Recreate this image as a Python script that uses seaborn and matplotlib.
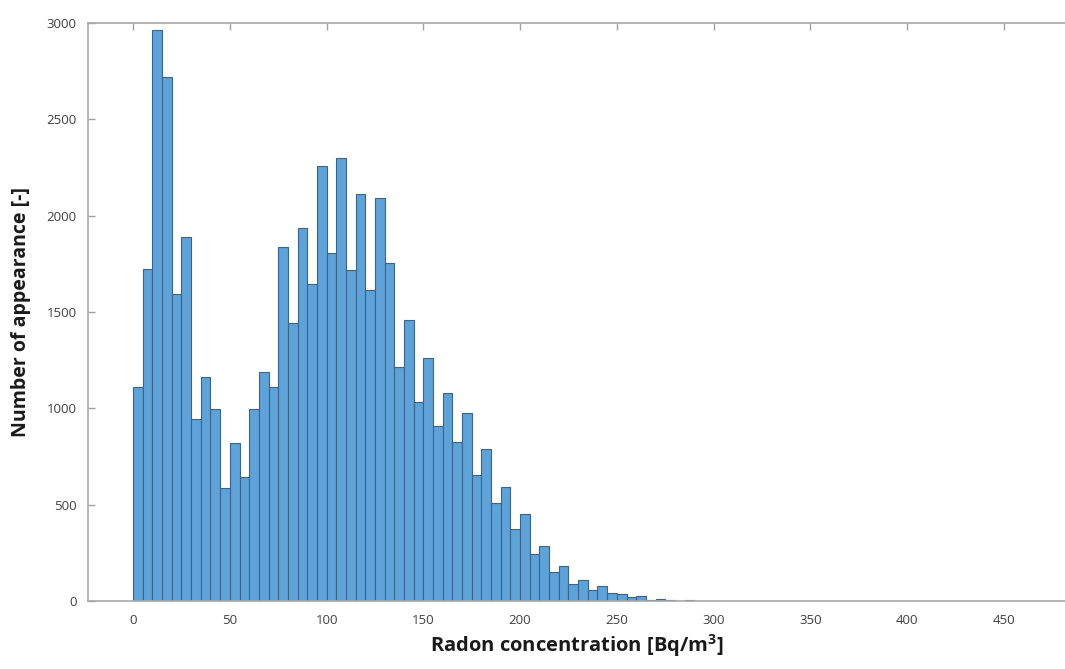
import numpy as np
import pandas as pd
import matplotlib
matplotlib.use('Agg')
import matplotlib.pyplot as plt
import seaborn as sns

# histogram of radon concentration, 5 Bq/m3 bins
bin_width = 5
bin_start = list(range(0, 470, bin_width))
counts = [1110, 1725, 2965, 2720, 1592, 1891, 943, 1164, 995, 585,
          821, 645, 995, 1187, 1112, 1839, 1441, 1934, 1645, 2258,
          1808, 2297, 1718, 2110, 1614, 2090, 1752, 1212, 1460, 1034,
          1259, 908, 1081, 823, 974, 654, 789, 510, 593, 372,
          450, 244, 285, 149, 182, 88, 109, 57, 80, 43,
          35, 22, 26, 5, 10, 3, 2, 4, 2, 1,
          1, 1, 0, 1, 0, 0, 1, 0, 0, 0,
          0, 0, 0, 0, 0, 0, 0, 0, 0, 0,
          0, 0, 0, 0, 0, 0, 0, 0, 0, 0,
          0, 0, 1, 0]
x_ticks = list(range(0, 451, 50))
y_ticks = list(range(0, 3001, 500))

df = pd.DataFrame({'center': np.array(bin_start) + bin_width / 2,
                   'count': counts})

sns.set_style('white')
plt.rcParams['font.family'] = ['Open Sans', 'DejaVu Sans']
plt.rcParams['mathtext.fontset'] = 'custom'
plt.rcParams['mathtext.bf'] = 'Open Sans:bold'
plt.rcParams['mathtext.rm'] = 'Open Sans'

fig = plt.figure(figsize=(10.65, 6.69), dpi=100)
ax = fig.add_axes([88 / 1065, 68 / 669, 977 / 1065, 578 / 669])

sns.histplot(data=df, x='center', weights='count',
             binwidth=bin_width, binrange=(0, bin_start[-1] + bin_width),
             color='#5fa2d8', edgecolor='#36668f', linewidth=0.8,
             alpha=1, ax=ax)

ax.set_xlim(-23.3, 481.6)
ax.set_ylim(0, 3000)
ax.set_xticks(x_ticks)
ax.set_yticks(y_ticks)

for side in ['top', 'left', 'bottom']:
    ax.spines[side].set_color('#a8a8a8')
    ax.spines[side].set_linewidth(1.2)
ax.spines['right'].set_visible(False)

ax.tick_params(axis='both', direction='in', length=5, width=1,
               color='#a0a0a0', labelcolor='#404040', labelsize=9.5)
ax.tick_params(axis='x', top=True, pad=9)
ax.tick_params(axis='y', left=True, pad=8)

ax.set_xlabel(r'Radon concentration [Bq/m$\mathbf{^3}$]', fontsize=14.5,
              fontweight='bold', color='#1a1a1a', labelpad=4)
ax.set_ylabel('Number of appearance [-]', fontsize=14,
              fontweight='bold', color='#1a1a1a', labelpad=11)

fig.savefig('out.png', dpi=100)
plt.close(fig)
